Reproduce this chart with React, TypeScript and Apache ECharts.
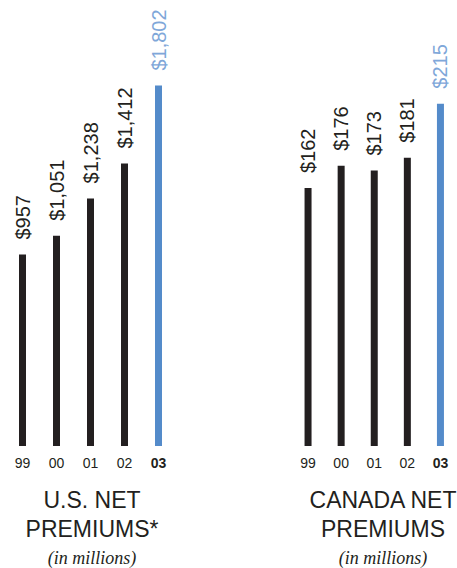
import React, { useEffect, useRef } from "react";
import * as echarts from "echarts";

const years = ["99", "00", "01", "02", "03"];
const usPremiums = [957, 1051, 1238, 1412, 1802];
const canadaPremiums = [162, 176, 173, 181, 215];
const usTitle = ["U.S. NET", "PREMIUMS*"];
const canadaTitle = ["CANADA NET", "PREMIUMS"];
const subtitle = "(in millions)";

const DARK = "#231f20";
const BLUE = "#548bca";
const BLUE_LABEL = "#7fa7d9";
const SANS = "'Liberation Sans Narrow', 'Liberation Sans', Arial, sans-serif";
const SANS_WIDE = "'Liberation Sans', Arial, sans-serif";

const fmt = (v: number) => "$" + v.toLocaleString("en-US");

function makeSeries(data: number[], idx: number) {
  return {
    type: "bar",
    xAxisIndex: idx,
    yAxisIndex: idx,
    barWidth: 7,
    data: data.map((v, i) => {
      const last = i === data.length - 1;
      return {
        value: v,
        itemStyle: { color: last ? BLUE : DARK },
        label: { color: last ? BLUE_LABEL : DARK },
      };
    }),
    label: {
      show: true,
      position: "top",
      rotate: 90,
      align: "left",
      verticalAlign: "middle",
      distance: 15,
      fontSize: 20,
      fontFamily: SANS_WIDE,
      formatter: (p: any) => fmt(p.value),
    },
  };
}

function makeXAxis(idx: number) {
  return {
    type: "category",
    gridIndex: idx,
    data: years,
    axisLine: { show: false },
    axisTick: { show: false },
    axisLabel: {
      interval: 0,
      margin: 10,
      fontSize: 14,
      color: DARK,
      fontFamily: SANS,
      formatter: (v: string) => (v === "03" ? `{b|${v}}` : v),
      rich: {
        b: { fontSize: 14, fontWeight: "bold", color: DARK, fontFamily: SANS },
      },
    },
  };
}

function titleTexts(lines: string[], cx: number) {
  const els: any[] = lines.map((t, i) => ({
    type: "text",
    x: cx,
    y: 499.5 + i * 29,
    style: {
      text: t,
      fill: DARK,
      fontSize: 23,
      fontFamily: SANS_WIDE,
      align: "center",
      verticalAlign: "middle",
    },
  }));
  els.push({
    type: "text",
    x: cx,
    y: 557.5,
    style: {
      text: subtitle,
      fill: DARK,
      fontSize: 18,
      fontStyle: "italic",
      fontFamily: "'Liberation Serif', 'Times New Roman', serif",
      align: "center",
      verticalAlign: "middle",
    },
  });
  return els;
}

export default function App() {
  const ref = useRef<HTMLDivElement>(null);
  useEffect(() => {
    if (!ref.current) return;
    const chart = echarts.init(ref.current, undefined, { renderer: "svg" });
    chart.setOption({
      animation: false,
      backgroundColor: "#ffffff",
      grid: [
        { left: 5.5, width: 170, top: 46, height: 400 },
        { left: 291.5, width: 170, top: 48, height: 398 },
      ],
      xAxis: [makeXAxis(0), makeXAxis(1)],
      yAxis: [
        { type: "value", gridIndex: 0, min: 0, max: 2000, show: false },
        { type: "value", gridIndex: 1, min: 0, max: 250, show: false },
      ],
      series: [makeSeries(usPremiums, 0), makeSeries(canadaPremiums, 1)],
      graphic: [...titleTexts(usTitle, 92), ...titleTexts(canadaTitle, 383)],
    });
    return () => chart.dispose();
  }, []);
  return (
    <div
      ref={ref}
      style={{ position: "absolute", left: 0, top: 0, width: 457, height: 568 }}
    />
  );
}
